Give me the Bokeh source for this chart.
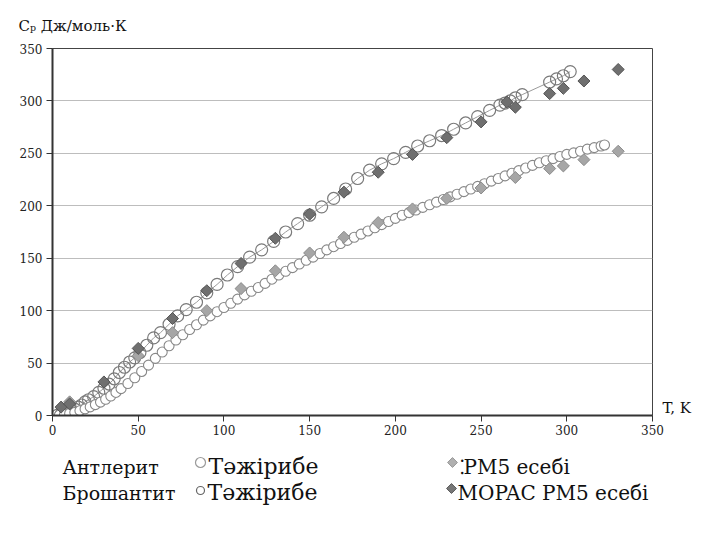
from bokeh.plotting import figure
from bokeh.models import Range1d, FixedTicker, LinearAxis, Title
from bokeh.core.properties import value
from bokeh.layouts import column
from bokeh.embed import file_html
from bokeh.resources import INLINE

# ---- data ----
T_broch = [3, 5, 7, 9, 11, 13, 15, 17, 19, 21, 24, 27, 30, 33, 36, 39, 42, 45, 48, 51,
           55, 59, 63, 68, 73, 78, 84, 90, 96, 102, 108, 115, 122, 129, 136, 143, 150,
           157, 164, 171, 178, 185, 192, 199, 206, 213, 220, 227, 234, 241, 248, 255,
           261, 264, 267, 270, 274, 290, 294, 298, 302]
Cp_broch = [0.3, 1, 2, 3, 4.5, 6, 8, 10, 13, 15, 18, 22, 26, 30, 35, 41, 46, 51, 55, 60,
            67, 74, 79, 87, 95, 101, 108, 117, 125, 134, 142, 151, 158, 166, 175, 183, 191,
            199, 207, 216, 226, 234, 240, 245, 251, 257, 262, 267, 273, 279, 285, 291,
            296, 298, 300, 303, 306, 318, 321, 324, 328]

T_antl = [4, 7, 10, 13, 16, 19, 22, 25, 28, 31, 34, 37, 40, 44, 48, 52, 56, 60, 64, 68,
          72, 76, 80, 84, 88, 92, 96, 100, 104, 108, 112, 116, 120, 124, 128, 132, 136,
          140, 144, 148, 152, 156, 160, 164, 168, 172, 176, 180, 184, 188, 192, 196, 200,
          204, 208, 212, 216, 220, 224, 228, 232, 236, 240, 244, 248, 252, 256, 260, 264,
          268, 272, 276, 280, 284, 288, 292, 296, 300, 304, 308, 312, 316, 320, 322]
Cp_antl = [0.3, 1, 2, 3, 4.6, 6.3, 8.2, 10.4, 12.8, 15.5, 18.6, 22, 25.6, 30.5, 36, 42,
           48, 54.5, 60.5, 66.5, 72, 77, 82, 86.5, 91, 95, 99, 103, 107, 111, 115, 118.5,
           122, 126, 130, 134, 137.5, 141, 144.5, 148, 151, 154.5, 158, 161, 164, 167, 170,
           173, 176, 179, 182, 185, 188, 191, 193.5, 196, 198.5, 201, 203.5, 206, 208.5,
           211, 213.5, 216, 218.5, 221, 223.5, 226, 228.5, 231, 233.5, 236, 238.5, 241,
           243, 245, 247, 249, 250.5, 252, 254, 255.5, 257, 258]

T_pm5 = [10, 50, 70, 90, 110, 130, 150, 170, 190, 210, 230, 250, 270, 290, 298, 310, 330]
Cp_pm5 = [13, 57, 79, 100, 121, 138, 155, 170, 184, 197, 207, 217, 227, 235.5, 238, 244, 252]

T_mopac = [5, 10, 30, 50, 70, 90, 110, 130, 150, 170, 190, 210, 230, 250, 265, 270, 290,
           298, 310, 330]
Cp_mopac = [8, 11, 32, 64, 92.5, 119, 145, 169, 192, 213, 232, 249, 265, 280, 299, 294,
            307, 312, 319, 330]

ticks = [0, 50, 100, 150, 200, 250, 300, 350]

y_title = "C\u209a Дж/моль·К"
x_title = "T, K"
legend_names = ["Антлерит", "Брошантит"]
legend_exp = ["Тәжірибе", "Тәжірибе"]
legend_calc = ["\u205aPM5 есебі", "MOPAC PM5 есебі"]

FONT = "DejaVu Serif"
W = 701

# ---- main chart ----
p = figure(width=W, height=450, output_backend="svg", toolbar_location=None,
           x_range=Range1d(0, 350), y_range=Range1d(0, 350),
           min_border_left=52, min_border_right=49, min_border_top=48, min_border_bottom=35)
p.background_fill_color = "white"
p.border_fill_color = "white"
p.outline_line_color = "#444444"
p.outline_line_width = 1

ttl = Title(text=y_title, align="left", offset=-34, standoff=24, vertical_align="top",
            text_font=FONT, text_font_size="15px",
            text_font_style="normal", text_color="#111111")
p.add_layout(ttl, "above")

for ax in (p.xaxis[0], p.yaxis[0]):
    ax.ticker = FixedTicker(ticks=ticks)
    ax.axis_line_width = 2
    ax.axis_line_color = "#333333"
    ax.major_tick_line_color = "#333333"
    ax.major_tick_line_width = 1
    ax.major_tick_out = 6
    ax.major_tick_in = 0
    ax.minor_tick_line_color = None
    ax.major_label_text_font = FONT
    ax.major_label_text_font_size = "12px"
    ax.major_label_text_color = "#222222"
p.xaxis.major_label_standoff = 3
p.yaxis.major_label_standoff = 4

tk_axis = LinearAxis(ticker=FixedTicker(ticks=[7]), major_label_overrides={7: x_title},
                     axis_line_color=None, major_tick_line_color=None,
                     minor_tick_line_color=None, major_label_standoff=4,
                     major_label_text_font=FONT, major_label_text_font_size="15px",
                     major_label_text_color="#111111")
p.add_layout(tk_axis, "right")

p.xgrid.grid_line_color = None
p.ygrid.grid_line_color = "#bdbdbd"
p.ygrid.grid_line_width = 1

p.line(T_broch, Cp_broch, line_color="#9a9a9a", line_width=1)
p.scatter(T_broch, Cp_broch, marker="circle", size=12, fill_color="white", fill_alpha=0.0,
          line_color="#7a7a7a", line_width=1.2)
p.scatter(T_antl, Cp_antl, marker="circle", size=10, fill_color="white",
          line_color="#888888", line_width=1.1)
p.scatter(T_pm5, Cp_pm5, marker="square", angle=0.785398, size=8.5, fill_color="#a6a6a6",
          line_color="#8c8c8c", line_width=1)
p.scatter(T_mopac, Cp_mopac, marker="square", angle=0.785398, size=8.5, fill_color="#6f6f6f",
          line_color="#555555", line_width=1)

# ---- legend block (frame aligned with the main frame: x data == page x) ----
lg = figure(width=W, height=85, output_backend="svg", toolbar_location=None,
            x_range=Range1d(52, 652), y_range=Range1d(85, 0),
            x_axis_type=None, y_axis_type=None,
            min_border_left=52, min_border_right=49, min_border_top=0, min_border_bottom=0)
lg.grid.visible = False
lg.outline_line_color = None
lg.background_fill_color = "white"
lg.border_fill_color = "white"

rows_y = [16, 42]
lg.text(x=[62, 62], y=rows_y, text=legend_names, text_font=value(FONT),
        text_font_size="19px", text_color="#111111", text_baseline="middle")
lg.text(x=[208, 207], y=rows_y, text=legend_exp, text_font=value(FONT),
        text_font_size="22px", text_color="#111111", text_baseline="middle")
lg.text(x=[459, 457], y=rows_y, text=legend_calc, text_font=value(FONT),
        text_font_size="20px", text_color="#111111", text_baseline="middle")
lg.scatter([200], [rows_y[0] - 4], marker="circle", size=10, fill_color="white",
           line_color="#9a9a9a", line_width=1.2)
lg.scatter([200], [rows_y[1] - 2], marker="circle", size=8, fill_color="white",
           line_color="#666666", line_width=1.2)
lg.scatter([452], [rows_y[0] - 4], marker="square", angle=0.785398, size=7,
           fill_color="#b0b0b0", line_color="#999999")
lg.scatter([451], [rows_y[1] - 4], marker="square", angle=0.785398, size=7,
           fill_color="#777777", line_color="#5a5a5a")

layout = column(p, lg, spacing=0)
open("out.html", "w").write(file_html(layout, INLINE))
